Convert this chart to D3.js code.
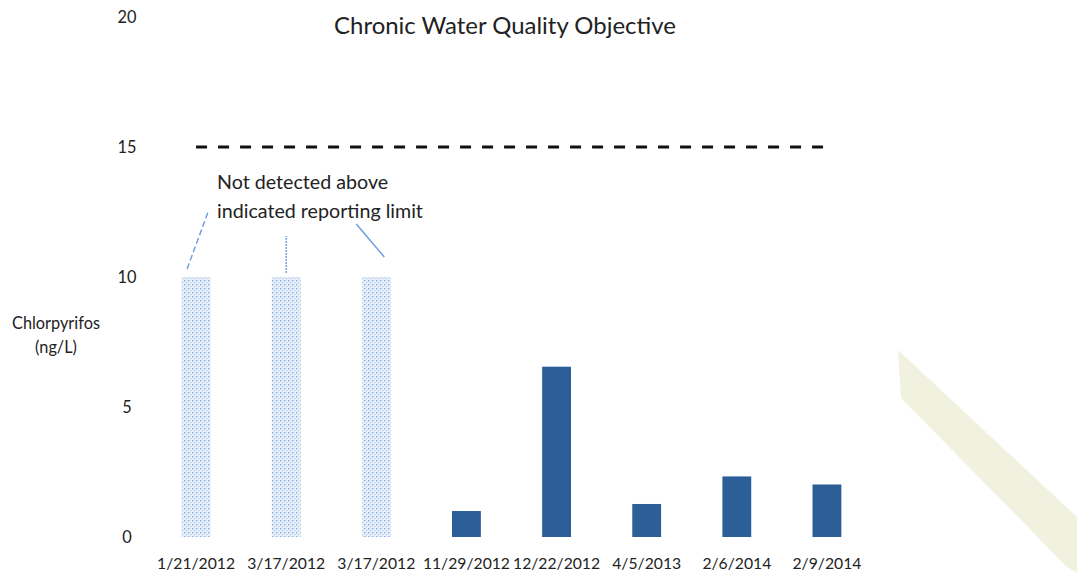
<!DOCTYPE html>
<html>
<head>
<meta charset="utf-8">
<script src="https://cdn.jsdelivr.net/npm/d3@7"></script>
<style>
  html, body { margin: 0; padding: 0; background: #fff; }
  svg { display: block; font-family: Lato, "Open Sans", sans-serif; }
</style>
</head>
<body>
<svg id="chart" width="1077" height="575"></svg>
<script>
// ---- data ----
const categories = ["1/21/2012", "3/17/2012", "3/17/2012", "11/29/2012", "12/22/2012", "4/5/2013", "2/6/2014", "2/9/2014"];
const values = [10, 10, 10, 1.0, 6.55, 1.27, 2.33, 2.02];
const notDetected = [true, true, true, false, false, false, false, false];
const yTicks = [0, 5, 10, 15, 20];
const objectiveValue = 15;
const title = "Chronic Water Quality Objective";
const yLabel = ["Chlorpyrifos", "(ng/L)"];
const note = ["Not detected above", "indicated reporting limit"];

// ---- layout ----
const svg = d3.select("#chart");
const x = d3.scaleBand().domain(d3.range(categories.length)).range([151, 872]).paddingInner(0.68).paddingOuter(0.34);
const y = d3.scaleLinear().domain([0, 20]).range([537, 17]);

// fit a text node's font-size so its width matches a target width
function fit(sel, target) {
  const node = sel.node();
  const fs = parseFloat(sel.attr("font-size"));
  const w = node.getComputedTextLength();
  return fs * target / w;
}

// scan artifact stripe (decoration)
svg.append("polygon")
  .attr("points", "898,350 1077,517 1077,573 1066,566 901,398")
  .attr("fill", "#f1f1e0");

// hatch pattern for non-detect bars
const defs = svg.append("defs");
const pat = defs.append("pattern").attr("id", "dots").attr("patternUnits", "userSpaceOnUse")
  .attr("width", 4).attr("height", 4);
pat.append("rect").attr("width", 4).attr("height", 4).attr("fill", "#e8eff9");
pat.append("rect").attr("x", 0).attr("y", 0).attr("width", 1.4).attr("height", 1.4).attr("fill", "#8aaee6");
pat.append("rect").attr("x", 2).attr("y", 2).attr("width", 1.2).attr("height", 1.2).attr("fill", "#b5cbef");

// probe sizes
const probe = svg.append("text").attr("font-size", 20);
probe.text("20"); const tickFs = fit(probe, 19);
probe.text("1/21/2012"); const xFs = fit(probe, 78);
probe.text(title); const titleFs = fit(probe, 342);
probe.text("indicated reporting limit"); const noteFs = fit(probe, 206);
probe.text("Chlorpyrifos"); const yFs = fit(probe, 88);
probe.remove();

// y axis tick labels
svg.append("g").selectAll("text").data(yTicks).join("text")
  .attr("x", 127).attr("y", d => y(d)).attr("dy", "0.35em")
  .attr("text-anchor", "middle").attr("font-size", tickFs).attr("fill", "#222")
  .text(d => d);

// y label
svg.append("text").attr("x", 56).attr("y", 329).attr("text-anchor", "middle")
  .attr("font-size", yFs).attr("fill", "#222")
  .selectAll("tspan").data(yLabel).join("tspan")
  .attr("x", 56).attr("dy", (d, i) => i === 0 ? 0 : 24).text(d => d);

// bars
svg.append("g").selectAll("rect").data(values).join("rect")
  .attr("x", (d, i) => x(i))
  .attr("width", x.bandwidth())
  .attr("y", d => y(d))
  .attr("height", d => y(0) - y(d))
  .attr("fill", (d, i) => notDetected[i] ? "url(#dots)" : "#2c5e98");

// x labels
svg.append("g").selectAll("text").data(categories).join("text")
  .attr("x", (d, i) => x(i) + x.bandwidth() / 2).attr("y", 569)
  .attr("text-anchor", "middle").attr("font-size", xFs).attr("fill", "#222")
  .text(d => d);

// objective dashed line
svg.append("line")
  .attr("x1", x(0) + x.bandwidth() / 2).attr("x2", x(categories.length - 1) + x.bandwidth() / 2)
  .attr("y1", y(objectiveValue)).attr("y2", y(objectiveValue))
  .attr("stroke", "#111").attr("stroke-width", 3).attr("stroke-dasharray", "11,11");

// title
svg.append("text").attr("x", 505).attr("y", 34).attr("text-anchor", "middle")
  .attr("font-size", titleFs).attr("fill", "#222").text(title);

// note
svg.append("text").attr("font-size", noteFs).attr("fill", "#222")
  .selectAll("tspan").data(note).join("tspan")
  .attr("x", 217).attr("y", (d, i) => 189 + i * 29).text(d => d);

// leader lines from non-detect bars (offsets relative to bar centre / top)
const leaders = [
  { i: 0, dx0: -9, dy0: -8, dx1: 12, dy1: -65, dash: "6,3" },
  { i: 1, dx0: 0, dy0: -4, dx1: 0, dy1: -41, dash: "2,1" },
  { i: 2, dx0: 8, dy0: -20, dx1: -20, dy1: -53, dash: null }
];
leaders.forEach(l => {
  const cx = x(l.i) + x.bandwidth() / 2;
  const ty = y(values[l.i]);
  svg.append("line")
    .attr("x1", cx + l.dx0).attr("y1", ty + l.dy0)
    .attr("x2", cx + l.dx1).attr("y2", ty + l.dy1)
    .attr("stroke", "#6b9ae0").attr("stroke-width", 1.4)
    .attr("stroke-dasharray", l.dash);
});
</script>
</body>
</html>
